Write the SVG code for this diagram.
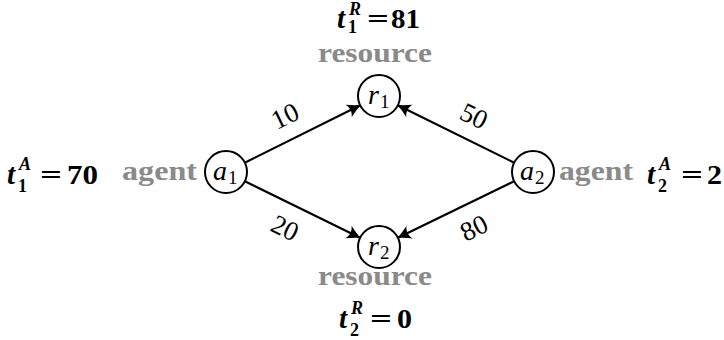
<svg xmlns="http://www.w3.org/2000/svg" width="724" height="340" viewBox="0 0 724 340">
<defs>
<style>
text{font-family:'Liberation Serif','Times New Roman',Times,serif}
.bg{fill:#fff}
.node{fill:#fff;stroke:#000;stroke-width:2}
.edge{stroke:#000;stroke-width:2.2;fill:none;marker-end:url(#arr)}
.gray{font-weight:bold;font-size:27px;fill:#8a8a8a}
.mi{font-style:italic;font-size:28px;fill:#000}
.sub{font-size:19px;fill:#000}
.bmi{font-style:italic;font-weight:bold;font-size:29px;fill:#000}
.bsub{font-weight:bold;font-size:18px;fill:#000}
.bcal{font-style:italic;font-weight:bold;font-size:18px;fill:#000}
.bnum{font-weight:bold;font-size:27px;fill:#000}
.w{font-size:27px;fill:#000;text-anchor:middle;dominant-baseline:central}
</style>
<marker id="arr" viewBox="-14 -8 16 16" refX="0" refY="0" markerWidth="16" markerHeight="16" markerUnits="userSpaceOnUse" orient="auto">
<path d="M1,0 C-3.5,-1.4 -8,-4 -13,-7 C-10,-2.5 -10,2.5 -13,7 C-8,4 -3.5,1.4 1,0 Z" fill="#000"/>
</marker>
</defs>
<rect class="bg" x="0" y="0" width="724" height="340"/>
<g id="connectors">
<g id="e-a1-r1"><line class="edge" x1="244.8" y1="162.7" x2="360.2" y2="105.3"/><text class="w" transform="translate(285,116) rotate(-26)">10</text></g>
<g id="e-a1-r2"><line class="edge" x1="244.9" y1="181.2" x2="360.1" y2="237.8"/><text class="w" transform="translate(285,228) rotate(26)">20</text></g>
<g id="e-a2-r1"><line class="edge" x1="514.2" y1="162.7" x2="397.8" y2="105.3"/><text class="w" transform="translate(474,116) rotate(26)">50</text></g>
<g id="e-a2-r2"><line class="edge" x1="514.1" y1="181.2" x2="397.9" y2="237.8"/><text class="w" transform="translate(474,228) rotate(-26)">80</text></g>
</g>
<g id="a1">
<circle class="node" cx="226" cy="172" r="21"/>
<text class="mi" x="213" y="180">a</text><text class="sub" x="228" y="184">1</text>
<text class="gray" x="122" y="180" textLength="75" lengthAdjust="spacingAndGlyphs">agent</text>
<text class="bmi" x="7" y="184">t</text><text class="bsub" x="18" y="192">1</text><text class="bcal" x="19" y="170">A</text>
<text class="bnum" x="40" y="184" textLength="22" lengthAdjust="spacingAndGlyphs">=</text>
<text class="bnum" x="67" y="184" textLength="31" lengthAdjust="spacingAndGlyphs">70</text>
</g>
<g id="a2">
<circle class="node" cx="533" cy="172" r="21"/>
<text class="mi" x="520" y="180">a</text><text class="sub" x="535" y="184">2</text>
<text class="gray" x="559" y="180" textLength="74" lengthAdjust="spacingAndGlyphs">agent</text>
<text class="bmi" x="647" y="184">t</text><text class="bsub" x="658" y="192">2</text><text class="bcal" x="659" y="170">A</text>
<text class="bnum" x="681" y="184" textLength="22" lengthAdjust="spacingAndGlyphs">=</text>
<text class="bnum" x="707" y="184" textLength="15" lengthAdjust="spacingAndGlyphs">2</text>
</g>
<g id="r1">
<circle class="node" cx="379" cy="96" r="21"/>
<text class="mi" x="368" y="104">r</text><text class="sub" x="380" y="108">1</text>
<text class="gray" x="318" y="62" textLength="114" lengthAdjust="spacingAndGlyphs">resource</text>
<text class="bmi" x="337" y="28">t</text><text class="bsub" x="348" y="33">1</text><text class="bcal" x="349" y="15">R</text>
<text class="bnum" x="367" y="28" textLength="22" lengthAdjust="spacingAndGlyphs">=</text>
<text class="bnum" x="391" y="28" textLength="29" lengthAdjust="spacingAndGlyphs">81</text>
</g>
<g id="r2">
<circle class="node" cx="379" cy="247" r="21"/>
<text class="mi" x="368" y="255">r</text><text class="sub" x="380" y="259">2</text>
<text class="gray" x="318" y="285" textLength="114" lengthAdjust="spacingAndGlyphs">resource</text>
<text class="bmi" x="339" y="328">t</text><text class="bsub" x="350" y="336">2</text><text class="bcal" x="351" y="314">R</text>
<text class="bnum" x="370" y="328" textLength="22" lengthAdjust="spacingAndGlyphs">=</text>
<text class="bnum" x="397" y="328" textLength="15" lengthAdjust="spacingAndGlyphs">0</text>
</g>
</svg>
